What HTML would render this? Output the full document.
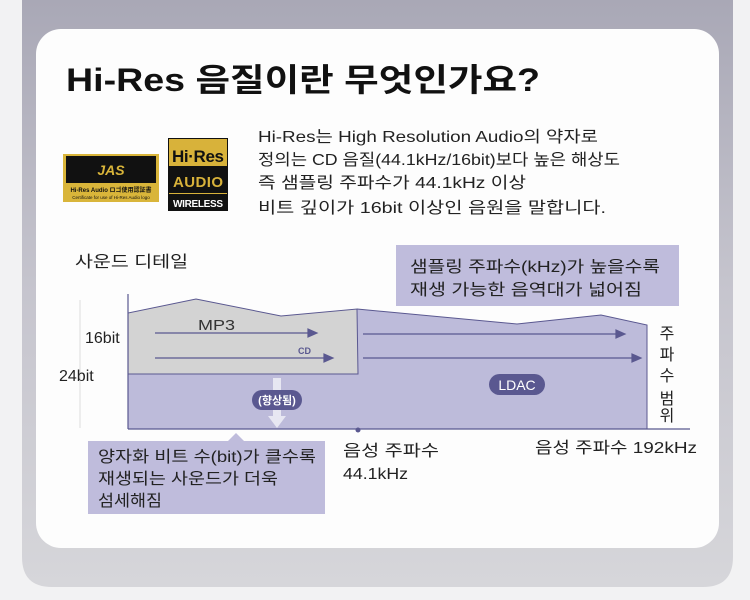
<!DOCTYPE html>
<html><head><meta charset="utf-8"><style>
html,body{margin:0;padding:0;width:750px;height:600px;overflow:hidden;background:#f2f2f3;}
svg{display:block}
text{font-family:"Liberation Sans","Noto Sans CJK KR",sans-serif;}
</style></head><body>
<svg width="750" height="600" viewBox="0 0 750 600" xmlns="http://www.w3.org/2000/svg">
<defs>
<linearGradient id="bg" x1="0" y1="0" x2="0" y2="1">
<stop offset="0" stop-color="#a9a8b6"/><stop offset="0.5" stop-color="#c6c5ce"/><stop offset="1" stop-color="#d6d6da"/>
</linearGradient>
</defs>
<path d="M22 0 H733 V557 Q733 587 703 587 H52 Q22 587 22 557 Z" fill="url(#bg)"/>
<rect x="36" y="29" width="683" height="519" rx="25" fill="#fdfdfd"/>
<text x="66" y="91" font-size="32" font-weight="bold" fill="#111" textLength="474" lengthAdjust="spacingAndGlyphs">Hi-Res 음질이란 무엇인가요?</text>

<!-- logos -->
<rect x="63" y="154" width="96" height="48" fill="#d9b53a"/>
<rect x="66" y="156" width="90" height="27" fill="#111"/>
<text x="111" y="175" font-size="14" font-weight="bold" font-style="italic" fill="#d9b53a" text-anchor="middle">JAS</text>
<text x="111" y="192" font-size="6" font-weight="bold" fill="#111" text-anchor="middle">Hi-Res Audio ロゴ使用認証書</text>
<text x="111" y="199" font-size="4.5" fill="#111" text-anchor="middle">Certificate for use of Hi-Res Audio logo</text>
<rect x="168" y="138" width="60" height="73" fill="#111"/>
<rect x="169" y="139" width="58" height="55" fill="#d8b23a"/>
<text x="198" y="162" font-size="17" font-weight="bold" fill="#111" text-anchor="middle" textLength="52">Hi·Res</text>
<rect x="169" y="166" width="58" height="27" fill="#111"/>
<text x="198" y="187" font-size="15" font-weight="bold" fill="#d8b23a" text-anchor="middle" textLength="50">AUDIO</text>
<text x="198" y="207" font-size="10" font-weight="bold" fill="#fff" text-anchor="middle" textLength="50">WIRELESS</text>

<g font-size="16" fill="#222">
<text x="258" y="142" textLength="340" lengthAdjust="spacingAndGlyphs">Hi-Res는 High Resolution Audio의 약자로</text>
<text x="258" y="165" textLength="362" lengthAdjust="spacingAndGlyphs">정의는 CD 음질(44.1kHz/16bit)보다 높은 해상도</text>
<text x="258" y="188" textLength="268" lengthAdjust="spacingAndGlyphs">즉 샘플링 주파수가 44.1kHz 이상</text>
<text x="258" y="213" textLength="348" lengthAdjust="spacingAndGlyphs">비트 깊이가 16bit 이상인 음원을 말합니다.</text>
</g>

<text x="75" y="267" font-size="16" fill="#222" textLength="113" lengthAdjust="spacingAndGlyphs">사운드 디테일</text>
<rect x="396" y="245" width="283" height="61" fill="#bfbcdc"/>
<text x="410" y="272" font-size="16" fill="#222" textLength="250" lengthAdjust="spacingAndGlyphs">샘플링 주파수(kHz)가 높을수록</text>
<text x="410" y="295" font-size="16" fill="#222" textLength="232" lengthAdjust="spacingAndGlyphs">재생 가능한 음역대가 넓어짐</text>

<!-- chart -->
<line x1="80" y1="300" x2="80" y2="428" stroke="#ddd" stroke-width="1"/>
<polygon points="128,429 128,313 196,299 281,316 357,309 517,324 601,315 647,325 647,429" fill="#bdbbda"/>
<polygon points="128,374 128,313 196,299 281,316 357,309 358,374" fill="#d3d3d3" stroke="#5a5890" stroke-width="1"/>
<polyline points="357,309 517,324 601,315 647,325 647,429" fill="none" stroke="#5a5890" stroke-width="1"/>
<line x1="128" y1="294" x2="128" y2="429" stroke="#5a5890" stroke-width="1.2"/>
<line x1="128" y1="429" x2="690" y2="429" stroke="#5a5890" stroke-width="1.2"/>
<circle cx="358" cy="430" r="2.5" fill="#5a5890"/>

<g stroke="#5a5890" stroke-width="1.2" fill="#5a5890">
<line x1="155" y1="333" x2="310" y2="333"/><polygon points="317,333 308,329 308,337"/>
<line x1="155" y1="358" x2="326" y2="358"/><polygon points="333,358 324,354 324,362"/>
<line x1="363" y1="334" x2="618" y2="334"/><polygon points="625,334 616,330 616,338"/>
<line x1="363" y1="358" x2="634" y2="358"/><polygon points="641,358 632,354 632,362"/>
</g>
<text x="198" y="330" font-size="15" fill="#333" textLength="37" lengthAdjust="spacingAndGlyphs">MP3</text>
<text x="298" y="354" font-size="9" font-weight="bold" fill="#5a5890">CD</text>
<text x="85" y="343" font-size="16" fill="#222">16bit</text>
<text x="59" y="381" font-size="16" fill="#222">24bit</text>

<path d="M273 378 h8 v38 h5 l-9 12 l-9 -12 h5 z" fill="#eeeef6" opacity="0.85"/>
<rect x="252" y="390" width="50" height="20" rx="10" fill="#5a5890"/>
<text x="277" y="404" font-size="11" font-weight="bold" fill="#fff" text-anchor="middle">(향상됨)</text>
<rect x="489" y="374" width="56" height="21" rx="10.5" fill="#5a5890"/>
<text x="517" y="390" font-size="14" fill="#fff" text-anchor="middle">LDAC</text>

<g font-size="16" fill="#222" text-anchor="middle">
<text x="667" y="339">주</text><text x="667" y="360">파</text><text x="667" y="381">수</text><text x="667" y="404">범</text><text x="667" y="421">위</text>
</g>

<polygon points="88,441 228,441 236,433 244,441 325,441 325,514 88,514" fill="#bfbcdc"/>
<g font-size="16" fill="#222">
<text x="98" y="462" textLength="218" lengthAdjust="spacingAndGlyphs">양자화 비트 수(bit)가 클수록</text>
<text x="98" y="484" textLength="180" lengthAdjust="spacingAndGlyphs">재생되는 사운드가 더욱</text>
<text x="98" y="506" textLength="64" lengthAdjust="spacingAndGlyphs">섬세해짐</text>
</g>
<text x="343" y="456" font-size="16" fill="#222" textLength="96" lengthAdjust="spacingAndGlyphs">음성 주파수</text>
<text x="343" y="479" font-size="16" fill="#222" textLength="65" lengthAdjust="spacingAndGlyphs">44.1kHz</text>
<text x="535" y="453" font-size="16" fill="#222" textLength="162" lengthAdjust="spacingAndGlyphs">음성 주파수 192kHz</text>
</svg>
</body></html>
